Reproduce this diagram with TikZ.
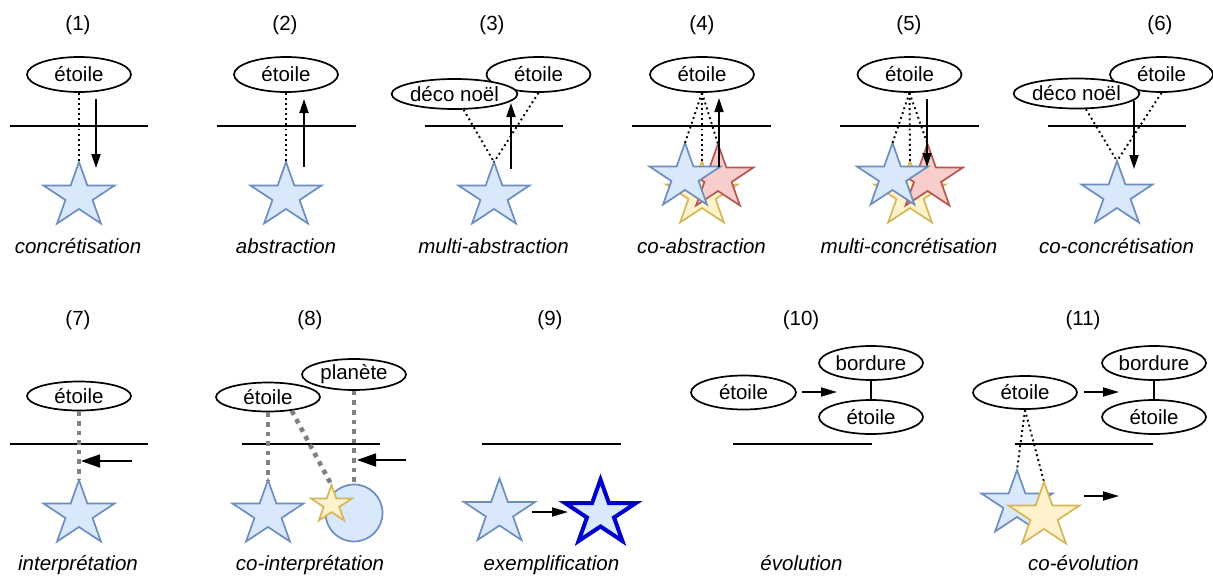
\documentclass[tikz,border=0pt]{standalone}
\usepackage{fontspec}
\setmainfont{Liberation Sans}
\usetikzlibrary{arrows.meta,shapes.geometric}
\definecolor{bfill}{HTML}{DAE8FC}
\definecolor{bdraw}{HTML}{6C8EBF}
\definecolor{yfill}{HTML}{FFF2CC}
\definecolor{ydraw}{HTML}{D6B656}
\definecolor{rfill}{HTML}{F8CECC}
\definecolor{rdraw}{HTML}{B85450}
\definecolor{dblue}{HTML}{0000CC}
\definecolor{gline}{HTML}{808080}
\newcommand{\lblfont}{\fontsize{20.5}{24}\selectfont}
\newcommand{\drawstarshape}[5]{%
  \begin{scope}[shift={(#2,#3)},xscale=#4*71,yscale=#4*61.5]
    \draw[#5] (0,0) -- (0.118,0.382) -- (0.5,0.382) -- (0.191,0.618) -- (0.309,1) -- (0,0.764) -- (-0.309,1) -- (-0.191,0.618) -- (-0.5,0.382) -- (-0.118,0.382) -- cycle;
    \coordinate (#1) at (0,0);
  \end{scope}}
\tikzset{
  ellnode/.style={draw, ellipse, line width=1.7pt, fill=white, inner sep=0pt, minimum width=104pt, minimum height=35pt, font=\lblfont},
  numtxt/.style={font=\lblfont, anchor=base, inner sep=0pt},
  captxt/.style={font=\lblfont\itshape, anchor=base, inner sep=0pt},
  starB/.style={fill=bfill, draw=bdraw, line width=1.7pt},
  starY/.style={fill=yfill, draw=ydraw, line width=1.7pt},
  starR/.style={fill=rfill, draw=rdraw, line width=1.7pt},
  starD/.style={fill=bfill, draw=dblue, line width=4pt},
  dotline/.style={line width=1.9pt, dash pattern=on 1.9pt off 3.2pt},
  greydots/.style={draw=gline, line width=4.6pt, dash pattern=on 4.6pt off 5pt},
  hline/.style={line width=1.8pt},
  arrS/.style={line width=1.8pt, -{Triangle[length=14pt,width=9pt]}},
  arrL/.style={line width=1.8pt, -{Triangle[length=19pt,width=13pt]}},
  arrM/.style={line width=1.8pt, -{Triangle[length=16pt,width=9pt]}},
}
\begin{document}
\begin{tikzpicture}[x=1pt,y=-1pt]
\useasboundingbox (0,0) rectangle (1213,576);
% ---------------- Row 1 ----------------
\node[numtxt] (n1) at (78,30.5) {(1)};
\node[numtxt] (n2) at (285,30.5) {(2)};
\node[numtxt] (n3) at (492,30.5) {(3)};
\node[numtxt] (n4) at (702,30.5) {(4)};
\node[numtxt] (n5) at (909,30.5) {(5)};
\node[numtxt] (n6) at (1160,30.5) {(6)};
% horizontal lines row 1
\foreach \i/\a/\b in {1/10/148, 2/217/356, 3/425/563, 4/632/771, 5/840/979, 6/1048/1186}{
  \coordinate (hl\i a) at (\a,126); \coordinate (hl\i b) at (\b,126);
  \draw[hline] (hl\i a) -- (hl\i b);
}
% panel 1
\node[ellnode] (e1) at (79,74.5) {étoile};
\drawstarshape{s1}{79}{162}{1}{starB}
\draw[dotline] (e1) -- (s1);
\coordinate (a1s) at (96,99); \coordinate (a1e) at (96,168);
\draw[arrS] (a1s) -- (a1e);
\node[captxt] (c1) at (78,253.5) {concrétisation};
% panel 2
\node[ellnode] (e2) at (286,74.5) {étoile};
\drawstarshape{s2}{286}{162}{1}{starB}
\draw[dotline] (e2) -- (s2);
\coordinate (a2s) at (304,167); \coordinate (a2e) at (304,99);
\draw[arrS] (a2s) -- (a2e);
\node[captxt] (c2) at (286,253.5) {abstraction};
% panel 3
\node[ellnode] (e3) at (538.5,74.5) {étoile};
\node[ellnode, minimum width=122pt, minimum height=30pt] (d3) at (454.5,94) {déco noël};
\drawstarshape{s3}{494}{162}{1}{starB}
\draw[dotline] (d3) -- (s3);
\draw[dotline] (e3.south) -- (s3);
\coordinate (a3s) at (511,169); \coordinate (a3e) at (511,103);
\draw[arrS] (a3s) -- (a3e);
\node[captxt] (c3) at (493.5,253.5) {multi-abstraction};
% panel 4
\node[ellnode] (e4) at (702,74.5) {étoile};
\drawstarshape{s4y}{702}{161}{1}{starY}
\drawstarshape{s4r}{718}{144}{1}{starR}
\drawstarshape{s4b}{685}{143}{1}{starB}
\draw[dotline] (e4.south) -- (s4b);
\draw[dotline] (e4.south) -- (s4y);
\draw[dotline] (e4.south) -- (s4r);
\coordinate (a4s) at (719,167); \coordinate (a4e) at (719,98);
\draw[arrS] (a4s) -- (a4e);
\node[captxt] (c4) at (701.5,253.5) {co-abstraction};
% panel 5
\node[ellnode] (e5) at (909.5,74.5) {étoile};
\drawstarshape{s5y}{910}{161}{1}{starY}
\drawstarshape{s5r}{927.5}{144}{1}{starR}
\drawstarshape{s5b}{892.5}{143}{1}{starB}
\draw[dotline] (e5.south) -- (s5b);
\draw[dotline] (e5.south) -- (s5y);
\draw[dotline] (e5.south) -- (s5r);
\coordinate (a5s) at (927,99); \coordinate (a5e) at (927,167);
\draw[arrS] (a5s) -- (a5e);
\node[captxt] (c5) at (909,253.5) {multi-concrétisation};
% panel 6
\node[ellnode, minimum width=103pt] (e6) at (1161.5,74.5) {étoile};
\node[ellnode, minimum width=122pt, minimum height=30pt] (d6) at (1076.5,93.5) {déco noël};
\drawstarshape{s6}{1117}{161}{1}{starB}
\draw[dotline] (d6) -- (s6);
\draw[dotline] (e6.south) -- (s6);
\coordinate (a6s) at (1134,101); \coordinate (a6e) at (1134,169);
\draw[arrS] (a6s) -- (a6e);
\node[captxt] (c6) at (1116.5,253.5) {co-concrétisation};
% ---------------- Row 2 ----------------
\node[numtxt] (n7) at (78,325) {(7)};
\node[numtxt] (n8) at (310,325) {(8)};
\node[numtxt] (n9) at (550,325) {(9)};
\node[numtxt] (n10) at (801,325) {(10)};
\node[numtxt] (n11) at (1083,325) {(11)};
\foreach \i/\a/\b in {7/10/148, 8/242/380, 9/482/621, 10/733/872, 11/1015/1153}{
  \coordinate (hl\i a) at (\a,444); \coordinate (hl\i b) at (\b,444);
  \draw[hline] (hl\i a) -- (hl\i b);
}
% panel 7
\node[ellnode, minimum height=29pt] (e7) at (79,396) {étoile};
\drawstarshape{s7}{79}{480}{1}{starB}
\draw[greydots] (e7) -- (s7);
\coordinate (a7s) at (132,461); \coordinate (a7e) at (81,461);
\draw[arrL] (a7s) -- (a7e);
\node[captxt] (c7) at (78,570.5) {interprétation};
% panel 8
\node[ellnode, minimum height=29pt] (e8) at (268,397) {étoile};
\node[ellnode, minimum height=31pt] (p8) at (354,374.5) {planète};
\drawstarshape{s8}{268}{480}{1}{starB}
\node[circle, draw=bdraw, fill=bfill, line width=1.7pt, minimum size=57pt, inner sep=0pt] (ci8) at (354,513) {};
\drawstarshape{s8y}{331.5}{485}{0.577}{starY}
\draw[greydots] (e8) -- (s8);
\draw[greydots] (e8.330) -- (s8y);
\draw[greydots] (p8) -- (ci8.north);
\coordinate (a8s) at (406,460); \coordinate (a8e) at (357,460);
\draw[arrL] (a8s) -- (a8e);
\node[captxt] (c8) at (310,570.5) {co-interprétation};
% panel 9
\drawstarshape{s9a}{499.5}{478.5}{1}{starB}
\drawstarshape{s9b}{600.5}{479.5}{1}{starD}
\coordinate (a9s) at (532,512); \coordinate (a9e) at (568,512);
\draw[arrM] (a9s) -- (a9e);
\node[captxt] (c9) at (551.5,570.5) {exemplification};
% panel 10
\node[ellnode, minimum width=105pt, minimum height=34pt] (e10) at (743.5,392.5) {étoile};
\node[ellnode, minimum height=34pt] (b10) at (871,363) {bordure};
\node[ellnode, minimum height=34pt] (f10) at (871,417) {étoile};
\draw[hline] (b10) -- (f10);
\coordinate (a10s) at (802,392); \coordinate (a10e) at (837,392);
\draw[arrM] (a10s) -- (a10e);
\node[captxt] (c10) at (801.5,570.5) {évolution};
% panel 11
\node[ellnode, minimum height=33pt] (e11) at (1025,392.5) {étoile};
\node[ellnode, minimum height=34pt] (b11) at (1154,363) {bordure};
\node[ellnode, minimum height=34pt] (f11) at (1154,417) {étoile};
\draw[hline] (b11) -- (f11);
\drawstarshape{s11b}{1017}{470}{1}{starB}
\drawstarshape{s11y}{1044}{482}{1}{starY}
\draw[dotline] (e11.south) -- (s11b);
\draw[dotline] (e11.south) -- (s11y);
\coordinate (a11s) at (1084,392); \coordinate (a11e) at (1119,392);
\draw[arrM] (a11s) -- (a11e);
\coordinate (a11t) at (1084,496); \coordinate (a11u) at (1119,496);
\draw[arrM] (a11t) -- (a11u);
\node[captxt] (c11) at (1083.5,570.5) {co-évolution};
\end{tikzpicture}
\end{document}
